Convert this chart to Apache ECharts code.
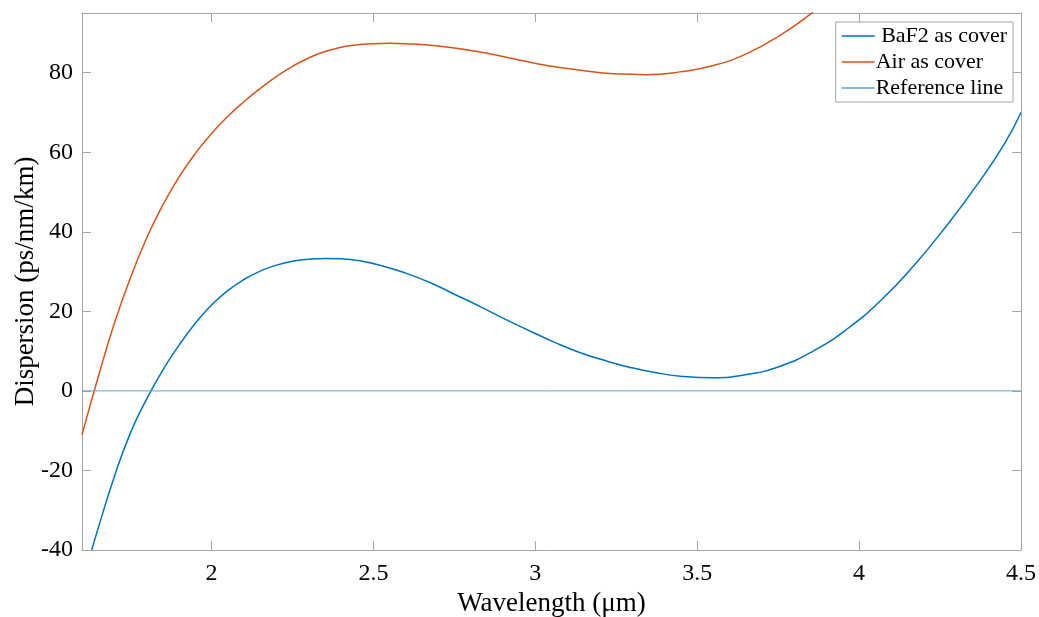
<!DOCTYPE html>
<html>
<head>
<meta charset="utf-8">
<script src="https://cdn.jsdelivr.net/npm/echarts@6/dist/echarts.min.js"></script>
<style>
html,body{margin:0;padding:0;background:#fff;}
#chart{width:1039px;height:617px;}
</style>
</head>
<body>
<div id="chart"></div>
<script>
// Wavelength (µm) and dispersion (ps/nm/km)
const baf2Wavelength = [1.63,1.65,1.70,1.75,1.80,1.85,1.90,1.95,2.00,2.05,2.10,2.15,2.20,2.25,2.30,2.35,2.40,2.45,2.52,2.60,2.676,2.75,2.83,2.90,2.985,3.06,3.139,3.22,3.293,3.37,3.448,3.55,3.653,3.756,3.858,3.962,4.065,4.168,4.27,4.373,4.45,4.50];
const baf2Dispersion = [-40,-34.5,-21.5,-10.5,-2.0,5.3,11.5,17.0,21.6,25.2,28.0,30.1,31.6,32.6,33.1,33.3,33.2,32.8,31.6,29.6,27.2,24.3,21.2,18.3,15.0,12.2,9.6,7.5,5.9,4.6,3.7,3.3,4.1,6.2,10.0,15.5,22.6,31.4,41.5,52.8,62.3,70.0];

const airWavelength = [1.60,1.65,1.70,1.75,1.80,1.85,1.90,1.95,2.00,2.05,2.10,2.15,2.20,2.25,2.30,2.35,2.40,2.45,2.50,2.55,2.60,2.70,2.83,2.95,3.036,3.14,3.242,3.345,3.447,3.55,3.653,3.756,3.859];
const airDispersion = [-11,3.5,17,28.5,38.5,46.8,53.8,59.7,64.7,69.0,72.7,76.0,79.0,81.6,83.7,85.3,86.4,87.0,87.3,87.4,87.3,86.7,85.2,83.2,81.8,80.6,79.7,79.5,80.2,81.8,84.8,89.4,95.3];

const refWavelength = [1.6, 4.5];
const refDispersion = [0, 0];

const seriesNames = [' BaF2 as cover', 'Air as cover', 'Reference line'];
const xTitle = 'Wavelength (\u03bcm)';
const yTitle = 'Dispersion (ps/nm/km)';

function pairs(xs, ys){ return xs.map((x,i)=>[x, ys[i]]); }

const font = 'Liberation Serif';
const axisGray = '#a6a6a6';
const colors = ['#0072BD', '#D95319', '#5fa2d6'];

const chart = echarts.init(document.getElementById('chart'), null, {renderer:'canvas'});
chart.setOption({
  animation:false,
  backgroundColor:'#fff',
  grid:{left:82, right:18, top:13, bottom:67, containLabel:false, outerBoundsMode:'none'},
  legend:{
    orient:'vertical', right:26, top:22,
    data:seriesNames.map(n=>({name:n, icon:'rect'})),
    backgroundColor:'#fff', borderColor:axisGray, borderWidth:1,
    padding:[3,6,3,6], itemWidth:33, itemHeight:1.6, itemGap:4,
    textStyle:{fontFamily:font, fontSize:22, color:'#000', padding:[0,0,0,-4], lineHeight:22}
  },
  xAxis:[{
    type:'value', min:1.6, max:4.5, position:'bottom',
    name:xTitle, nameLocation:'middle', nameGap:40, nameMoveOverlap:false,
    nameTextStyle:{fontFamily:font, fontSize:27, color:'#000'},
    axisLine:{show:true, onZero:false, lineStyle:{color:axisGray, width:1}},
    axisTick:{show:true, inside:true, length:9, lineStyle:{color:axisGray}},
    axisLabel:{fontFamily:font, fontSize:24, color:'#000', margin:12, showMinLabel:false},
    splitLine:{show:false}
  },{
    type:'value', min:1.6, max:4.5, position:'top',
    axisLine:{show:true, onZero:false, lineStyle:{color:axisGray, width:1}},
    axisTick:{show:true, inside:true, length:9, lineStyle:{color:axisGray}},
    axisLabel:{show:false}, splitLine:{show:false}
  }],
  yAxis:[{
    type:'value', min:-40, max:95, interval:20, position:'left',
    name:yTitle, nameLocation:'middle', nameGap:43, nameMoveOverlap:false,
    nameTextStyle:{fontFamily:font, fontSize:27, color:'#000'},
    axisLine:{show:true, onZero:false, lineStyle:{color:axisGray, width:1}},
    axisTick:{show:true, inside:true, length:9, lineStyle:{color:axisGray}},
    axisLabel:{fontFamily:font, fontSize:24, color:'#000', margin:9, showMaxLabel:false},
    splitLine:{show:false}
  },{
    type:'value', min:-40, max:95, interval:20, position:'right',
    axisLine:{show:true, onZero:false, lineStyle:{color:axisGray, width:1}},
    axisTick:{show:true, inside:true, length:9, lineStyle:{color:axisGray}},
    axisLabel:{show:false}, splitLine:{show:false}
  }],
  series:[
    {name:seriesNames[0], type:'line', data:pairs(baf2Wavelength, baf2Dispersion), smooth:true, symbol:'none', clip:true,
     lineStyle:{color:colors[0], width:1.5}, itemStyle:{color:colors[0]}},
    {name:seriesNames[1], type:'line', data:pairs(airWavelength, airDispersion), smooth:true, symbol:'none', clip:true,
     lineStyle:{color:colors[1], width:1.5}, itemStyle:{color:colors[1]}},
    {name:seriesNames[2], type:'line', data:pairs(refWavelength, refDispersion), symbol:'none', clip:true,
     lineStyle:{color:colors[2], width:1}, itemStyle:{color:colors[2]}}
  ]
});
</script>
</body>
</html>
